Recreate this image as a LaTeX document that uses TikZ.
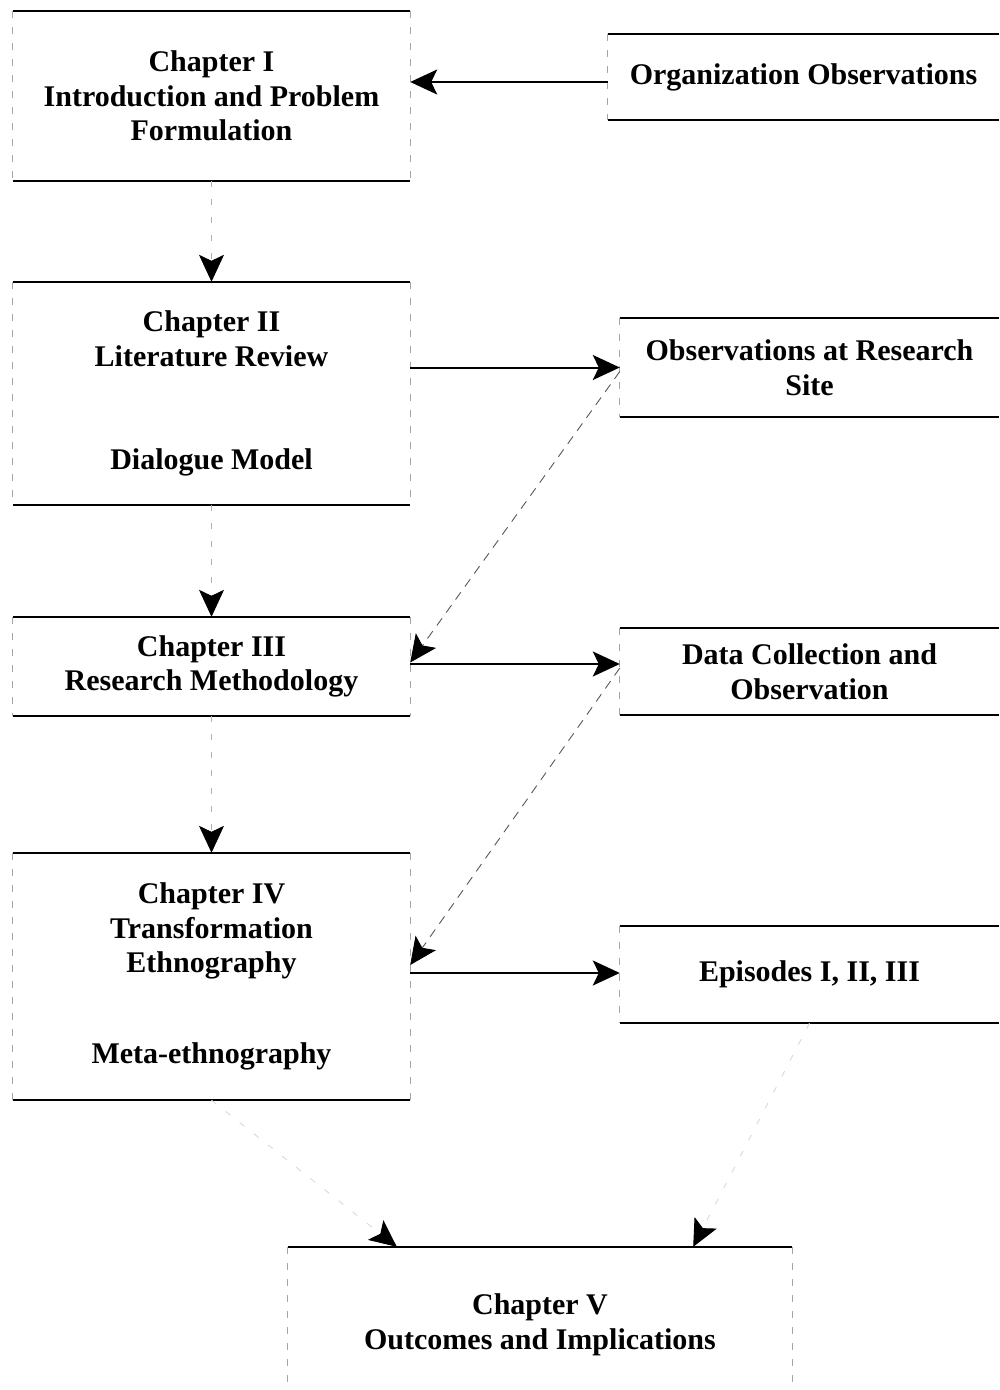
\documentclass[tikz,border=0pt]{standalone}
\usepackage{fontspec}
\setmainfont{Liberation Serif}
\usetikzlibrary{arrows.meta}
% solid top and bottom rules, faint broken sides
\newcommand\chapterframe[1]{%
  \draw[rule] (#1.north west) -- (#1.north east);
  \draw[rule] (#1.south west) -- (#1.south east);
  \draw[side] (#1.north west) -- (#1.south west);
  \draw[side] (#1.north east) -- (#1.south east);}
% frames running off the right margin: no right side
\newcommand\openframe[1]{%
  \draw[rule] (#1.north west) -- (#1.north east);
  \draw[rule] (#1.south west) -- (#1.south east);
  \draw[side] (#1.north west) -- (#1.south west);}
\begin{document}
\begin{tikzpicture}[x=1pt,y=-1pt,
  box/.style={inner sep=0pt, font=\fontsize{30}{34.5}\selectfont\bfseries, align=center},
  rule/.style={line width=1.7pt, black},
  side/.style={line width=0.9pt, black!35, dash pattern=on 7pt off 9pt},
  tip/.style={-{Stealth[length=27pt,width=25pt,inset=6pt,color=black]}},
  solidarrow/.style={tip, line width=2pt, draw=black},
  faintarrow/.style={tip, line width=0.9pt, draw=black!30, dash pattern=on 6pt off 12pt},
  diagarrow/.style={tip, line width=0.9pt, draw=black!65, dash pattern=on 9pt off 7pt}]
\useasboundingbox (0,0) rectangle (999,1390);
\fill[white] (0,0) rectangle (999,1390);

% left column: chapters
\node[box, minimum width=397pt, minimum height=170pt] (b1) at (211.5,96)
  {Chapter I\\Introduction and Problem\\Formulation};
\node[box, minimum width=397pt, minimum height=223pt] (b2) at (211.5,393.5)
  {Chapter II\\Literature Review\\[69pt]Dialogue Model};
\node[box, minimum width=397pt, minimum height=99pt] (b3) at (211.5,666.5)
  {Chapter III\\Research Methodology};
\node[box, minimum width=397pt, minimum height=247pt] (b4) at (211.5,976.5)
  {Chapter IV\\Transformation\\Ethnography\\[56pt]Meta-ethnography};
\node[box, minimum width=504pt, minimum height=156pt] (b5) at (540,1325)
  {Chapter V\\Outcomes and Implications};

% right column: field work
\node[box, minimum width=391pt, minimum height=86pt] (org) at (803.5,77)
  {Organization Observations};
\node[box, minimum width=379pt, minimum height=99pt] (obs) at (809.5,367.5)
  {Observations at Research\\Site};
\node[box, minimum width=379pt, minimum height=87pt] (data) at (809.5,671.5)
  {Data Collection and\\Observation};
\node[box, minimum width=379pt, minimum height=97pt] (epi) at (809.5,974.5)
  {Episodes I, II, III};

\chapterframe{b1}
\chapterframe{b2}
\chapterframe{b3}
\chapterframe{b4}
\draw[rule] (b5.north west) -- (b5.north east);
\draw[side] (b5.north west) -- (b5.south west);
\draw[side] (b5.north east) -- (b5.south east);
\openframe{org}
\openframe{obs}
\openframe{data}
\openframe{epi}

% connectors
\draw[solidarrow] ([yshift=-5pt]org.west) -- ([yshift=-5pt]org.west -| b1.east);
\draw[faintarrow] (b1.south) -- (b2.north);
\draw[solidarrow] (obs.west -| b2.east) -- (obs.west);
\draw[faintarrow] (b2.south) -- (b3.north);
\draw[diagarrow] ([yshift=-4pt]obs.west) -- ([yshift=4pt]b3.east);
\draw[solidarrow] ([yshift=2.5pt]b3.east) -- ([yshift=2.5pt]b3.east -| data.west);
\draw[diagarrow] ([yshift=3.5pt]data.west) -- ([yshift=11.5pt]b4.east);
\draw[faintarrow] (b3.south) -- (b4.north);
\draw[solidarrow] ([yshift=1.5pt]epi.west -| b4.east) -- ([yshift=1.5pt]epi.west);
\draw[faintarrow, draw=black!15] (b4.south) -- ([xshift=109pt]b5.north west);
\draw[faintarrow, draw=black!15] (epi.south) -- ([xshift=-99pt]b5.north east);
\end{tikzpicture}
\end{document}
